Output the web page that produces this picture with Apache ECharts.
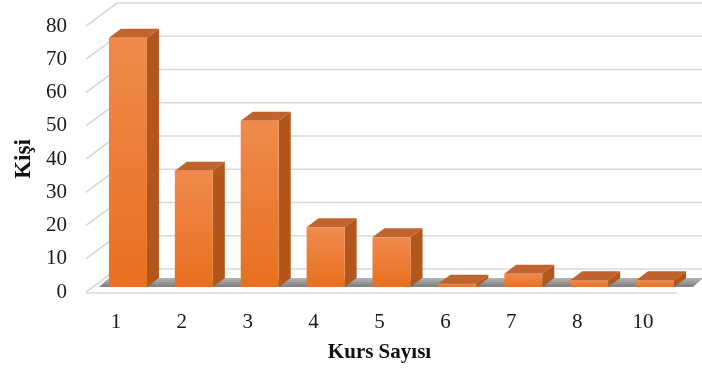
<!DOCTYPE html>
<html>
<head>
<meta charset="utf-8">
<script src="https://cdn.jsdelivr.net/npm/echarts@6/dist/echarts.min.js"></script>
<style>
  html, body { margin: 0; padding: 0; background: #fff; }
  #chart { width: 702px; height: 376px; }
</style>
</head>
<body>
<div id="chart"></div>
<script>
const categories = ['1', '2', '3', '4', '5', '6', '7', '8', '10'];
const values = [75, 35, 50, 18, 15, 1, 4, 2, 2];
const yTicks = [0, 10, 20, 30, 40, 50, 60, 70, 80];

const FONT = '"Liberation Serif", "DejaVu Serif", serif';
// depth offsets (px) of the pseudo 3D look
const WALL_DX = 31, WALL_DY = -23;
const BAR_DX = 12, BAR_DY = -9;

const chart = echarts.init(document.getElementById('chart'));

function renderWall(params, api) {
    const cs = params.coordSys;
    const y = api.coord([0, api.value(0)])[1];
    const x0 = cs.x + 3;
    return {
        type: 'polyline',
        silent: true,
        shape: { points: [[x0, y], [x0 + WALL_DX, y + WALL_DY], [702, y + WALL_DY]] },
        style: { stroke: '#d9d9d9', lineWidth: 1.6, fill: null }
    };
}

function renderFloor(params, api) {
    const cs = params.coordSys;
    const y0 = api.coord([0, 0])[1];
    const xl = cs.x + 16, xr = cs.x + cs.width + 17;
    return {
        type: 'group',
        silent: true,
        children: [
            {
                type: 'polygon',
                shape: { points: [[xl, y0 - 5], [xl + 10, y0 - 14], [xr + 10, y0 - 14], [xr, y0 - 5]] },
                style: {
                    fill: new echarts.graphic.LinearGradient(0, 0, 0, 1, [
                        { offset: 0, color: '#b4b4b4' },
                        { offset: 1, color: '#7c7c7c' }
                    ])
                }
            },
            {
                type: 'line',
                shape: { x1: cs.x + 3, y1: y0 + 1, x2: cs.x + cs.width + 1, y2: y0 + 1 },
                style: { stroke: '#d9d9d9', lineWidth: 1.6 }
            }
        ]
    };
}

function renderBar(params, api) {
    const idx = api.value(0);
    const top = api.coord([idx, api.value(1)]);
    const base = api.coord([idx, 0]);
    const xl = top[0] - 7, xr = top[0] + 31;
    const yt = Math.min(top[1] - 5, base[1] - 7);
    const yb = base[1] - 5;
    return {
        type: 'group',
        children: [
            {
                type: 'polygon',
                shape: { points: [[xr, yt], [xr + BAR_DX, yt + BAR_DY], [xr + BAR_DX, yb + BAR_DY], [xr, yb]] },
                style: { fill: '#b2561c' }
            },
            {
                type: 'polygon',
                shape: { points: [[xl, yt], [xl + BAR_DX, yt + BAR_DY], [xr + BAR_DX, yt + BAR_DY], [xr, yt]] },
                style: { fill: '#c0632c' }
            },
            {
                type: 'rect',
                shape: { x: xl, y: yt, width: xr - xl, height: yb - yt },
                style: {
                    fill: new echarts.graphic.LinearGradient(0, 0, 0, 1, [
                        { offset: 0, color: '#f08a4c' },
                        { offset: 1, color: '#e8701f' }
                    ])
                }
            }
        ]
    };
}

chart.setOption({
    animation: false,
    grid: { left: 83, right: 26, top: 26, bottom: 84 },
    xAxis: {
        type: 'category',
        data: categories,
        name: 'Kurs Sayısı',
        nameLocation: 'middle',
        nameGap: 50,
        nameTextStyle: { fontFamily: FONT, fontSize: 21, fontWeight: 'bold', color: '#111' },
        axisLine: { show: false },
        axisTick: { show: false },
        axisLabel: { fontFamily: FONT, fontSize: 21, color: '#1a1a1a', margin: 20 }
    },
    yAxis: {
        type: 'value',
        min: 0,
        max: 80,
        interval: 10,
        name: 'Kişi',
        nameLocation: 'middle',
        nameGap: 47,
        nameTextStyle: { fontFamily: FONT, fontSize: 23, fontWeight: 'bold', color: '#111' },
        splitLine: { show: false },
        axisLine: { show: false },
        axisTick: { show: false },
        axisLabel: { fontFamily: FONT, fontSize: 21, color: '#1a1a1a', margin: 16 }
    },
    series: [
        {
            type: 'custom',
            name: 'walls',
            coordinateSystem: 'cartesian2d',
            renderItem: renderWall,
            data: yTicks.map(v => [v]),
            encode: { y: 0 },
            clip: false,
            silent: true,
            z: 1
        },
        {
            type: 'custom',
            name: 'floor',
            coordinateSystem: 'cartesian2d',
            renderItem: renderFloor,
            data: [[0, 0]],
            encode: { x: 0, y: 1 },
            clip: false,
            silent: true,
            z: 2
        },
        {
            type: 'custom',
            name: 'Kişi',
            coordinateSystem: 'cartesian2d',
            renderItem: renderBar,
            data: values.map((v, i) => [i, v]),
            encode: { x: 0, y: 1 },
            clip: false,
            z: 3
        }
    ]
});
</script>
</body>
</html>
